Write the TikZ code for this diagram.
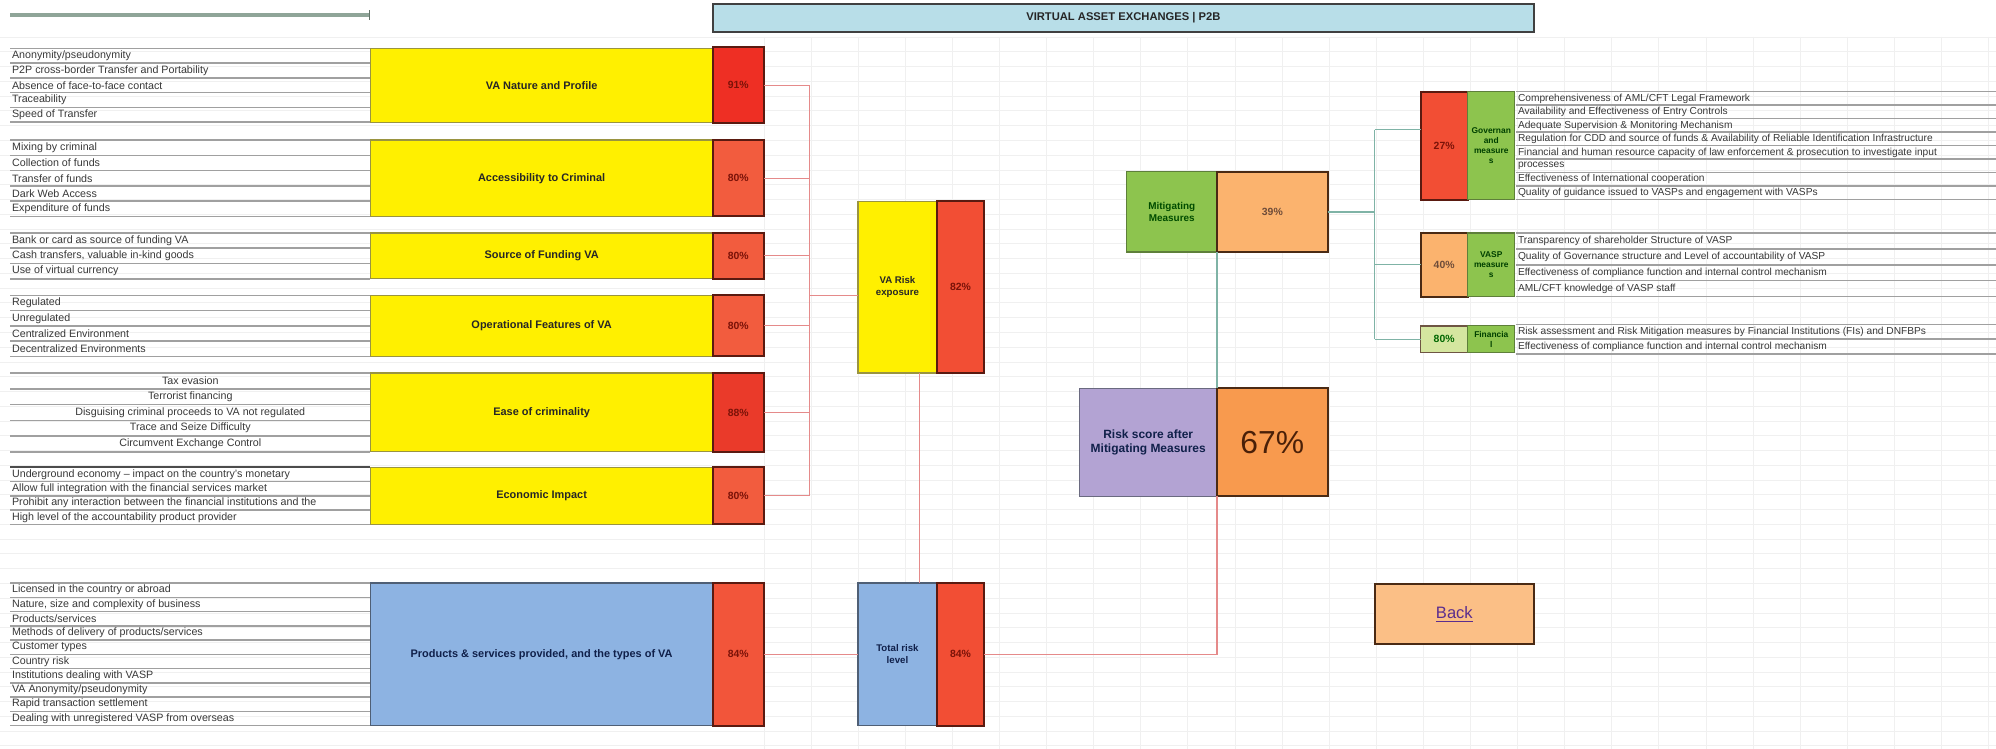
\documentclass[tikz,border=0pt]{standalone}
\usepackage{fontspec}
\setmainfont{Liberation Sans}
\definecolor{vyellow}{HTML}{FFF000}
\definecolor{yedge}{HTML}{9A9440}
\definecolor{redA}{HTML}{EE2F24}
\definecolor{redB}{HTML}{F25C3E}
\definecolor{redC}{HTML}{EA3A2A}
\definecolor{redD}{HTML}{F24E34}
\definecolor{redE}{HTML}{F2553A}
\definecolor{redge}{HTML}{5A1A10}
\definecolor{pcttext}{HTML}{7A1208}
\definecolor{vblue}{HTML}{8DB3E2}
\definecolor{bedge}{HTML}{4F5F75}
\definecolor{navytxt}{HTML}{10204A}
\definecolor{vgreen}{HTML}{8DC44E}
\definecolor{gedge}{HTML}{5E7F3A}
\definecolor{lorange}{HTML}{FBB36E}
\definecolor{orange67}{HTML}{F89A4E}
\definecolor{vpurple}{HTML}{B3A3D3}
\definecolor{pedge}{HTML}{6A6A80}
\definecolor{backfill}{HTML}{FBBF86}
\definecolor{backtxt}{HTML}{5B2D8E}
\definecolor{lgreen}{HTML}{D5E6A0}
\definecolor{titlefill}{HTML}{B8DEE8}
\definecolor{rline}{HTML}{E58A8A}
\definecolor{tline}{HTML}{7FB3A6}
\definecolor{rulegray}{HTML}{A0A0A0}
\definecolor{brownedge}{HTML}{4A2A14}
\definecolor{darkbrown}{HTML}{4A2008}
\definecolor{topline}{HTML}{8FA598}

% rows of a text list with grey rules between them
\newcommand{\rowlist}[7][listtxt]{%
  \draw[listrule] (#3,#5) -- (#4,#5);
  \foreach[count=\k] \itm in {#7}{%
    \node[#1, anchor=west] (#2\k) at (#3+1.5, {#5+(\k-0.5)*#6}) {\itm};
    \draw[listrule] (#3,{#5+\k*#6}) -- (#4,{#5+\k*#6});
  }}

\begin{document}
\begin{tikzpicture}[x=1pt,y=-1pt,
  cell/.style={draw, anchor=north west, inner sep=1pt, outer sep=0pt, align=center},
  ybox/.style={cell, fill=vyellow, draw=yedge, line width=0.9pt, font=\bfseries\fontsize{8.6}{10}\selectfont, text=black!85},
  bbox/.style={cell, fill=vblue, draw=bedge, line width=0.9pt, font=\bfseries\fontsize{8.6}{10}\selectfont, text=navytxt},
  pbox/.style={cell, draw=redge, line width=1.6pt, font=\bfseries\fontsize{8.2}{10}\selectfont, text=pcttext},
  gbox/.style={cell, fill=vgreen, draw=gedge, line width=0.9pt, inner sep=0pt, font=\bfseries\fontsize{6.6}{8}\selectfont, text=black!75!green},
  listtxt/.style={inner sep=0pt, outer sep=0pt, font=\fontsize{8.4}{9}\selectfont, text=black!78},
  rtxt/.style={listtxt, font=\fontsize{8}{9}\selectfont},
  listrule/.style={draw=rulegray, line width=1.2pt},
  rl/.style={draw=rline, line width=0.9pt},
  tl/.style={draw=tline, line width=0.9pt},
  gridl/.style={draw=black!6, line width=0.4pt}]

\useasboundingbox[fill=white] (0,0) rectangle (1568,588);

% faint worksheet grid
\foreach \gy in {29,40.6,...,588} \draw[gridl] (0,\gy) -- (1568,\gy);
\foreach \gx in {600,637,...,1568} \draw[gridl] (\gx,29) -- (\gx,588);

% header rule at the top left
\draw[draw=topline, line width=3pt] (8,12) -- (290,12);
\draw[draw=topline!70!black, line width=1pt] (290,8) -- (290,16);

% title bar
\node[cell, fill=titlefill, draw=black!75, line width=1.3pt, minimum width=645pt, minimum height=22pt,
      font=\bfseries\fontsize{8.8}{10}\selectfont, text=black!85] (title) at (560,3) {VIRTUAL ASSET EXCHANGES | P2B};

% ---- risk factor lists ----
\rowlist{a}{8}{291}{38}{11.6}{Anonymity/pseudonymity,P2P cross-border Transfer and Portability,Absence of face-to-face contact,Traceability,Speed of Transfer}
\rowlist{b}{8}{291}{110}{12}{Mixing by criminal,Collection of funds,Transfer of funds,Dark Web Access,Expenditure of funds}
\rowlist{c}{8}{291}{183}{12}{Bank or card as source of funding VA,{Cash transfers, valuable in-kind goods},Use of virtual currency}
\rowlist{d}{8}{291}{232}{12}{Regulated,Unregulated,Centralized Environment,Decentralized Environments}
\draw[listrule] (8,293) -- (291,293);
\foreach[count=\k] \itm in {Tax evasion,Terrorist financing,Disguising criminal proceeds to VA not regulated,Trace and Seize Difficulty,Circumvent Exchange Control}{%
  \node[listtxt] (e\k) at (149.5, {293+(\k-0.5)*12.4}) {\itm};
  \draw[listrule] (8,{293+\k*12.4}) -- (291,{293+\k*12.4});
}
\rowlist{f}{8}{291}{367}{11.25}{Underground economy – impact on the country's monetary,Allow full integration with the financial services market,Prohibit any interaction between the financial institutions and the,High level of the accountability product provider}
\draw[draw=black!70, line width=1.2pt] (8,367) -- (291,367);
\rowlist{g}{8}{291}{458}{11.2}{Licensed in the country or abroad,{Nature, size and complexity of business},Products/services,Methods of delivery of products/services,Customer types,Country risk,Institutions dealing with VASP,VA Anonymity/pseudonymity,Rapid transaction settlement,Dealing with unregistered VASP from overseas}

% ---- category boxes and their scores ----
\node[ybox, minimum width=269pt, minimum height=58pt] (y1) at (291,38) {VA Nature and Profile};
\node[pbox, fill=redA, minimum width=40pt, minimum height=60pt] (p1) at (560,37) {91\%};
\node[ybox, minimum width=269pt, minimum height=60pt] (y2) at (291,110) {Accessibility to Criminal};
\node[pbox, fill=redB, minimum width=40pt, minimum height=60pt] (p2) at (560,110) {80\%};
\node[ybox, minimum width=269pt, minimum height=36pt] (y3) at (291,183) {Source of Funding VA};
\node[pbox, fill=redB, minimum width=40pt, minimum height=36pt] (p3) at (560,183) {80\%};
\node[ybox, minimum width=269pt, minimum height=48pt] (y4) at (291,232) {Operational Features of VA};
\node[pbox, fill=redB, minimum width=40pt, minimum height=48pt] (p4) at (560,232) {80\%};
\node[ybox, minimum width=269pt, minimum height=62pt] (y5) at (291,293) {Ease of criminality};
\node[pbox, fill=redC, minimum width=40pt, minimum height=62pt] (p5) at (560,293) {88\%};
\node[ybox, minimum width=269pt, minimum height=45pt] (y6) at (291,367) {Economic Impact};
\node[pbox, fill=redB, minimum width=40pt, minimum height=45pt] (p6) at (560,367) {80\%};
\node[bbox, minimum width=269pt, minimum height=112pt] (y7) at (291,458) {Products \& services provided, and the types of VA};
\node[pbox, fill=redE, minimum width=40pt, minimum height=112pt] (p7) at (560,458) {84\%};

% ---- aggregated scores ----
\node[ybox, minimum width=62pt, minimum height=135pt, font=\bfseries\fontsize{7.6}{9.5}\selectfont] (va) at (674,158) {VA Risk\\exposure};
\node[pbox, fill=redD, minimum width=37pt, minimum height=135pt] (vap) at (736,158) {82\%};
\node[bbox, minimum width=62pt, minimum height=112pt, font=\bfseries\fontsize{7.6}{9.5}\selectfont] (tot) at (674,458) {Total risk\\level};
\node[pbox, fill=redD, minimum width=37pt, minimum height=112pt] (totp) at (736,458) {84\%};

\node[cell, fill=vgreen, draw=gedge, line width=0.9pt, minimum width=71pt, minimum height=63pt,
      font=\bfseries\fontsize{7.8}{9.5}\selectfont, text=black!70!green] (mm) at (885,135) {Mitigating\\Measures};
\node[cell, fill=lorange, draw=brownedge, line width=1.4pt, minimum width=87pt, minimum height=63pt,
      font=\bfseries\fontsize{8.2}{10}\selectfont, text=darkbrown!80] (mmp) at (956,135) {39\%};
\node[cell, fill=vpurple, draw=pedge, line width=1pt, minimum width=108pt, minimum height=85pt,
      font=\bfseries\fontsize{9.4}{11}\selectfont, text=navytxt] (rs) at (848,305) {Risk score after\\Mitigating Measures};
\node[cell, fill=orange67, draw=brownedge, line width=1.6pt, minimum width=87pt, minimum height=85pt,
      font=\fontsize{25}{28}\selectfont, text=darkbrown] (rsp) at (956,305) {67\%};

% ---- mitigating measure groups ----
\node[pbox, fill=redD, minimum width=37pt, minimum height=85pt] (gp) at (1116,72) {27\%};
\node[gbox, minimum width=37pt, minimum height=85pt] (gg) at (1153,72) {Governan\\and\\measure\\s};
\node[pbox, fill=lorange, draw=brownedge, text=darkbrown!80, minimum width=37pt, minimum height=50pt] (vp) at (1116,183) {40\%};
\node[gbox, minimum width=37pt, minimum height=50pt] (vg) at (1153,183) {VASP\\measure\\s};
\node[pbox, fill=lgreen, draw=brownedge!80, line width=1.2pt, text=black!60!green, minimum width=37pt, minimum height=21pt] (fp) at (1116,256) {80\%};
\node[gbox, minimum width=37pt, minimum height=21pt] (fg) at (1153,256) {Financia\\l};

\rowlist[rtxt]{h}{1191}{1580}{72}{10.6}{Comprehensiveness of AML/CFT Legal Framework,Availability and Effectiveness of Entry Controls,Adequate Supervision \& Monitoring Mechanism,Regulation for CDD and source of funds \& Availability of Reliable Identification Infrastructure,Financial and human resource capacity of law enforcement \& prosecution to investigate input,processes,Effectiveness of International cooperation,Quality of guidance issued to VASPs and engagement with VASPs}
\rowlist[rtxt]{v}{1191}{1580}{183}{12.5}{Transparency of shareholder Structure of VASP,Quality of Governance structure and Level of accountability of VASP,Effectiveness of compliance function and internal control mechanism,AML/CFT knowledge of VASP staff}
\rowlist[rtxt]{w}{1191}{1580}{255}{11.5}{Risk assessment and Risk Mitigation measures by Financial Institutions (FIs) and DNFBPs,Effectiveness of compliance function and internal control mechanism}

% ---- back button ----
\node[cell, fill=backfill, draw=brownedge, line width=1.6pt, minimum width=125pt, minimum height=47pt,
      font=\fontsize{13}{15}\selectfont, text=backtxt] (back) at (1080,459) {\underline{Back}};

% ---- connectors ----
\coordinate (busx) at (636,0);
\foreach \p in {p1,p2,p3,p4,p5,p6} \draw[rl] (\p.east) -- (\p.east -| busx);
\draw[rl] (p1.east -| busx) -- (p6.east -| busx);
\coordinate (vain) at (674,232);
\draw[rl] (busx |- vain) -- (vain);
\coordinate (vline) at (722,0);
\draw[rl] (va.south -| vline) -- (tot.north -| vline);
\draw[rl] (p7.east) -- (tot.west);
\draw[rl] (totp.east) -| (rsp.south west);
\draw[tl] (mmp.south west) -- (rsp.north west);

\coordinate (rbus) at (1080,0);
\coordinate (gin) at (1116,102);
\draw[tl] (mmp.east) -- (mmp.east -| rbus);
\draw[tl] (rbus |- gin) -- (rbus |- fp.west);
\draw[tl] (rbus |- gin) -- (gin);
\draw[tl] (rbus |- vp.west) -- (vp.west);
\draw[tl] (rbus |- fp.west) -- (fp.west);
\end{tikzpicture}
\end{document}
